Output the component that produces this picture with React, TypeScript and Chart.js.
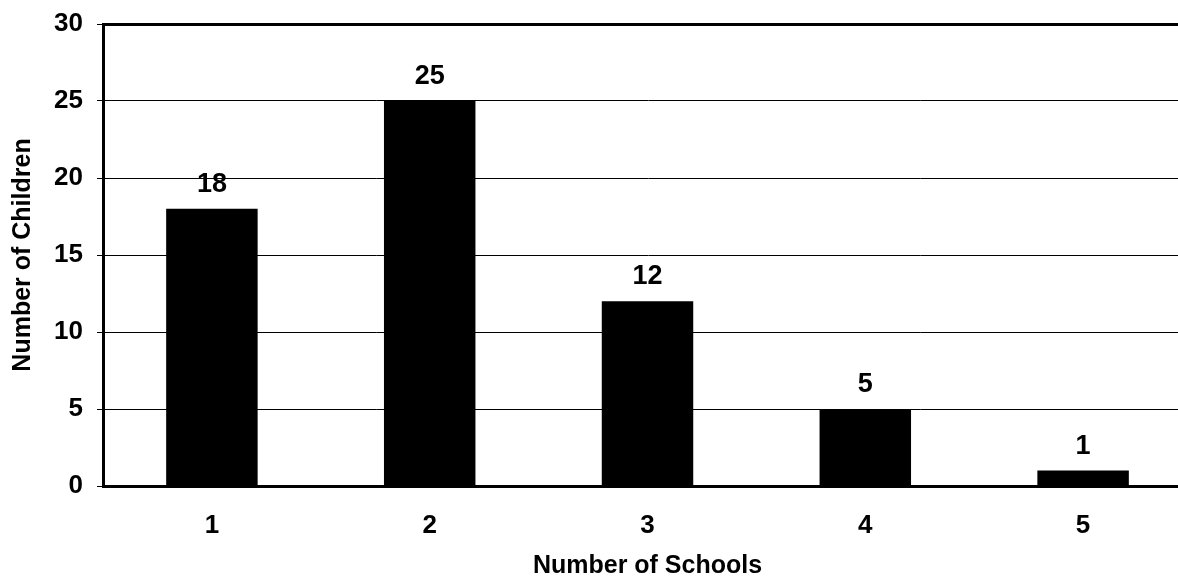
import React, { useEffect, useRef } from "react";
import { Chart, registerables } from "chart.js";

Chart.register(...registerables);

const categories = ["1", "2", "3", "4", "5"];
const childrenCounts = [18, 25, 12, 5, 1];
const yTicks = [0, 5, 10, 15, 20, 25, 30];
const xTitle = "Number of Schools";
const yTitle = "Number of Children";

const FONT = "'Liberation Sans', Arial, sans-serif";

const valueLabels = {
  id: "valueLabels",
  afterDatasetsDraw(chart: any) {
    const ctx = chart.ctx;
    const meta = chart.getDatasetMeta(0);
    ctx.save();
    ctx.fillStyle = "#000";
    ctx.font = `bold 27px ${FONT}`;
    ctx.textAlign = "center";
    ctx.textBaseline = "alphabetic";
    meta.data.forEach((bar: any, i: number) => {
      ctx.fillText(String(childrenCounts[i]), bar.x, bar.y - 17);
    });
    ctx.restore();
  },
};

export default function App() {
  const ref = useRef<HTMLCanvasElement>(null);
  useEffect(() => {
    if (!ref.current) return;
    const chart = new Chart(ref.current, {
      type: "bar",
      data: {
        labels: categories,
        datasets: [
          {
            data: childrenCounts,
            backgroundColor: "#000",
            borderWidth: 0,
            categoryPercentage: 1,
            barPercentage: 0.42,
          },
        ],
      },
      options: {
        responsive: false,
        animation: false,
        layout: { padding: { top: 24, right: 8, left: 0, bottom: 0 } },
        plugins: {
          legend: { display: false },
          tooltip: { enabled: false },
        },
        scales: {
          x: {
            grid: { display: true, drawOnChartArea: false, drawTicks: false, color: "rgba(0,0,0,0)" },
            border: { display: true, color: "#000", width: 3 },
            ticks: {
              color: "#000",
              font: { family: FONT, size: 26, weight: "bold" },
              padding: 24,
              maxRotation: 0,
            },
            title: {
              display: true,
              text: xTitle,
              color: "#000",
              font: { family: FONT, size: 25, weight: "bold", lineHeight: 1 },
              padding: { top: 0, bottom: 0 },
            },
            afterFit: (scale: any) => {
              scale.height = 93;
              scale.paddingLeft = 0;
              scale.paddingRight = 0;
            },
          },
          y: {
            min: 0,
            max: 30,
            afterBuildTicks: (scale: any) => {
              scale.ticks = yTicks.map((v) => ({ value: v }));
            },
            grid: {
              color: "#000",
              lineWidth: (c: any) => (c.tick && c.tick.value === 30 ? 3 : 1),
              tickLength: 6,
              tickWidth: 1,
              tickColor: "#000",
            },
            border: { display: true, color: "#000", width: 3 },
            ticks: {
              color: "#000",
              font: { family: FONT, size: 26, weight: "bold" },
              padding: 14,
            },
            title: {
              display: true,
              text: yTitle,
              color: "#000",
              font: { family: FONT, size: 25, weight: "bold" },
              padding: { top: 8, bottom: 0 },
            },
            afterFit: (scale: any) => {
              scale.width = 103;
              scale.paddingTop = 0;
              scale.paddingBottom = 0;
            },
          },
        },
      },
      plugins: [valueLabels],
    });
    return () => chart.destroy();
  }, []);
  return (
    <div
      style={{
        position: "fixed",
        left: 0,
        top: 0,
        width: 1178,
        height: 579,
        overflow: "hidden",
        background: "#fff",
      }}
    >
      <canvas ref={ref} width={1200} height={579} style={{ width: 1200, height: 579, display: "block" }} />
    </div>
  );
}
